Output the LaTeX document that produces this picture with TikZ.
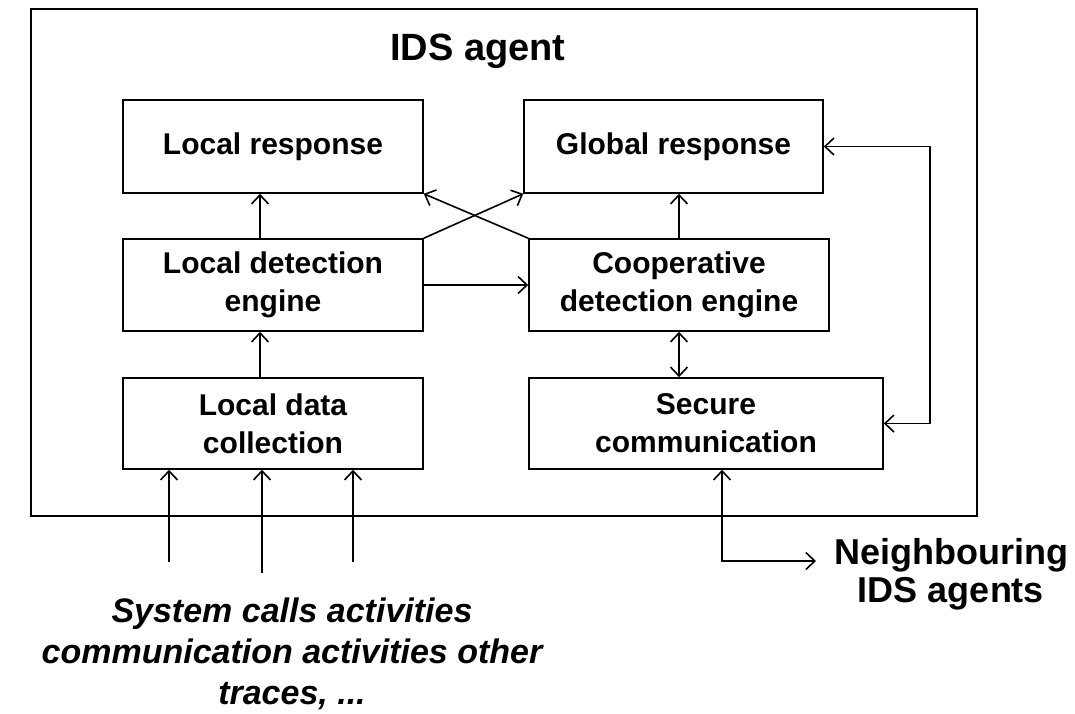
\documentclass[tikz,border=0pt]{standalone}
\usepackage{fontspec}
\setmainfont{Liberation Sans}
\usetikzlibrary{arrows.meta}
\begin{document}
\begin{tikzpicture}[x=1pt,y=-1pt,
  unit/.style={draw, line width=1.6pt, align=center, inner sep=0pt,
    font=\fontsize{30}{38}\selectfont\bfseries},
  link/.style={line width=1.6pt, -{Straight Barb[length=9pt,width=17pt,line width=1.6pt]}},
  twoway/.style={line width=1.6pt, {Straight Barb[length=9pt,width=17pt,line width=1.6pt]}-{Straight Barb[length=9pt,width=17pt,line width=1.6pt]}},
  plain/.style={line width=1.6pt}]
\useasboundingbox (0,0) rectangle (1075,713);

% agent frame
\draw[plain] (31,9) rectangle (977,516);
\node[font=\fontsize{38}{44}\selectfont\bfseries] (title) at (478,51) {IDS agent};

% components
\node[unit, minimum width=300pt, minimum height=93pt] (lr)  at (273,146.5) {Local response};
\node[unit, minimum width=299pt, minimum height=93pt] (gr)  at (673.5,146.5) {Global response};
\node[unit, minimum width=300pt, minimum height=92pt] (ld)  at (273,285) {Local detection\\engine};
\node[unit, minimum width=300pt, minimum height=92pt] (cd)  at (679,285) {Cooperative\\detection engine};
\node[unit, minimum width=300pt, minimum height=91pt] (ldc) at (273,423.5) {Local data\\collection};
\node[unit, minimum width=354pt, minimum height=91pt] (sc)  at (706,423.5) {Secure\\communication};

% external labels
\node[align=center, font=\fontsize{34}{41}\selectfont\bfseries\itshape] (traces) at (292,654)
  {System calls activities\\communication activities other\\traces, ...};
\node[align=center, font=\fontsize{36}{38}\selectfont\bfseries] (nbr) at (951,574)
  {Neighbouring\\IDS agents};

% free ends
\coordinate (in1) at (169,562);
\coordinate (in2) at (262,573);
\coordinate (in3) at (353,562);
\coordinate (rt) at (930,0);
\coordinate (nb) at (816,561);

% internal flows
\draw[link] ([xshift=-13pt]ldc.north) -- ([xshift=-13pt]ld.south);
\draw[link] ([xshift=-13pt]ld.north) -- ([xshift=-13pt]lr.south);
\draw[link] (ld.east) -- (cd.west);
\draw[link] (ld.north east) -- (gr.south west);
\draw[link] (cd.north west) -- (lr.south east);
\draw[link] (cd.north) -- (cd.north |- gr.south);
\draw[twoway] (cd.south) -- (cd.south |- sc.north);
\draw[twoway] (gr.east) -- (gr.east -| rt) -- (sc.east -| rt) -- (sc.east);

% inputs and neighbour link
\draw[link] (in1) -- (in1 |- ldc.south);
\draw[link] (in2) -- (in2 |- ldc.south);
\draw[link] (in3) -- (in3 |- ldc.south);
\draw[twoway] ([xshift=16pt]sc.south) |- (nb);
\end{tikzpicture}
\end{document}
